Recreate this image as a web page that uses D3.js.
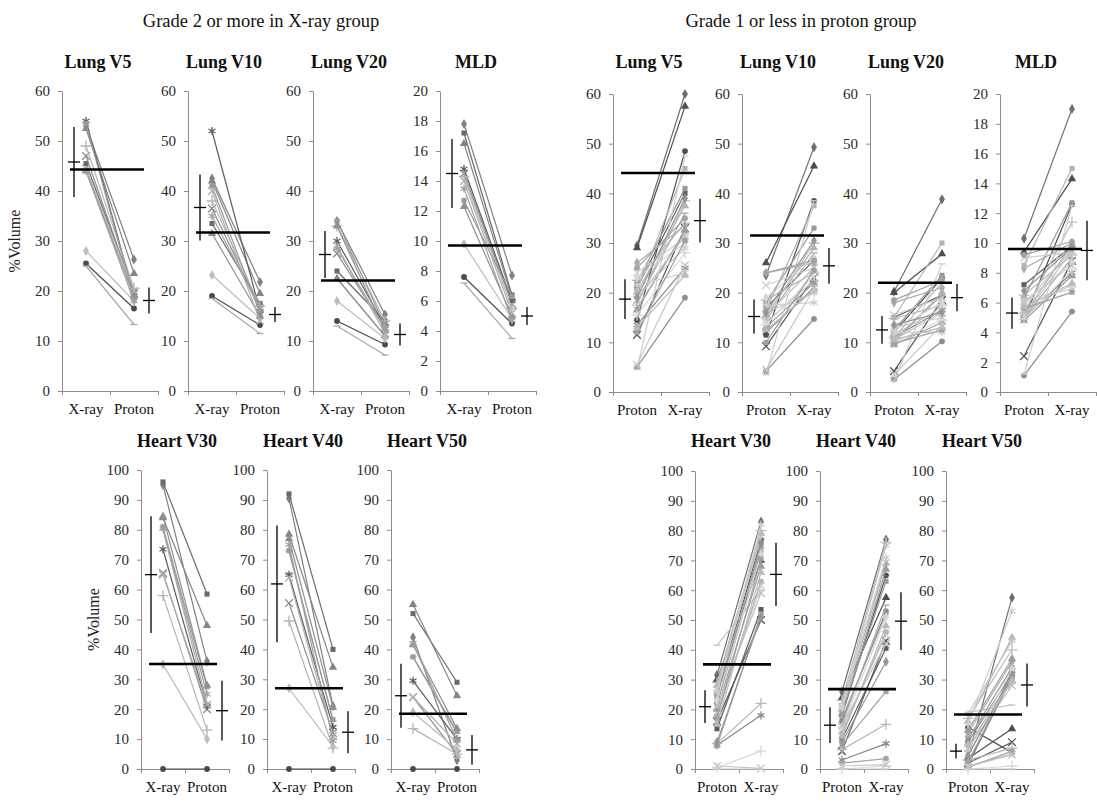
<!DOCTYPE html>
<html>
<head>
<meta charset="utf-8">
<script src="https://cdn.jsdelivr.net/npm/d3@7"></script>
<style>
body { margin: 0; background: #fff; }
svg text { font-family: "Liberation Serif", "Times New Roman", serif; }
</style>
</head>
<body>
<svg id="chart" width="1097" height="801"></svg>
<script>
// ---------------- data ----------------
var panelTitles = ["Lung V5", "Lung V10", "Lung V20", "MLD", "Heart V30", "Heart V40", "Heart V50"];
var panelMax = [60, 60, 60, 20, 100, 100, 100];
var panelStep = [10, 10, 10, 2, 10, 10, 10];
var catsLeft = ["X-ray", "Proton"];
var catsRight = ["Proton", "X-ray"];

// Grade 2 or more in X-ray group (13 patients) : X-ray value, Proton value
var lLungV5X  = [53, 45.5, 52.5, 47, 54, 25.5, 49, 25, 28, 53.5, 44, 44.5, 44];
var lLungV5P  = [26.3, 20, 23.5, 19.5, 19, 16.5, 20.5, 13.3, 18, 18.5, 19, 20, 18];
var lLungV10X = [42.5, 33.5, 42, 36.5, 52, 19, 38, 18.5, 23.2, 41, 31.5, 40, 35];
var lLungV10P = [21.8, 17.5, 19.5, 16.5, 16, 13.2, 17, 11.5, 14.5, 15.5, 15, 14, 16.5];
var lLungV20X = [34, 24, 22.5, 27.5, 30, 14, 33, 13, 18, 34, 33, 29, 28.5];
var lLungV20P = [15.3, 14, 11, 12.5, 13, 9.3, 14, 7.2, 10.5, 13, 12, 11.5, 12.5];
var lMldX     = [17.8, 17.2, 16.5, 14.5, 14.8, 7.6, 14.3, 7.2, 9.8, 12.7, 12.3, 14, 13.5];
var lMldP     = [7.7, 6.4, 6.2, 5.8, 6, 4.5, 5.5, 3.5, 4.8, 6.3, 5, 5.2, 4.7];
var lHeartV30X = [95, 96, 84, 65.5, 73.5, 0, 58, 80, 35, 81, 84.5, 65, 80.5];
var lHeartV30P = [36, 58.5, 48, 20, 21, 0, 13, 22, 10, 27.5, 28, 21.5, 25];
var lHeartV40X = [90.5, 92, 78.5, 55.5, 65, 0, 49.5, 73, 27, 73, 77, 64, 75];
var lHeartV40P = [21, 40, 34, 12, 14, 0, 7, 16, 7.5, 16.5, 20.5, 11, 9.5];
var lHeartV50X = [44, 52, 55, 24, 29.5, 0, 13.5, 37.5, 19, 37.5, 41.5, 24, 42];
var lHeartV50P = [3, 29, 24.5, 5, 10, 0, 5, 12, 6.5, 12.5, 13.5, 8.5, 9.5];

// Grade 1 or less in proton group (28 patients) : Proton value, X-ray value
var rLungV5P  = [29.5, 21, 29, 11.5, 13.5, 14.5, 22.5, 17, 26, 22, 20, 24, 19.5, 5, 17.5, 18, 23, 20.5, 16.5, 18.5, 21.5, 25, 15.5, 4.5, 19, 12, 13, 5.5];
var rLungV5X  = [60, 40, 57.5, 33, 25, 48.5, 34, 32, 33.5, 41, 37.5, 31, 29, 19, 38.5, 36, 30, 45, 32.5, 31.5, 24, 35, 28, 47.5, 39, 30.5, 23.5, 25.5];
var rLungV10P = [23.5, 17, 26, 9.2, 12, 11.5, 18.5, 14, 24, 18, 15.5, 21.5, 16, 4.2, 15, 14.5, 19, 16.5, 13, 15.5, 17.5, 24, 13.5, 3.5, 16, 10, 12.5, 4.5];
var rLungV10X = [49.3, 26.5, 45.5, 23, 21, 38.5, 24, 22.5, 26, 33, 29, 25, 20, 14.7, 30, 28, 27, 37.5, 22, 25, 18, 26.5, 23.5, 38.5, 30.5, 24.5, 20.5, 20.8];
var rLungV20P = [20.2, 15, 20, 4.2, 11, 12, 14.8, 11.5, 18, 12.5, 10, 15.5, 13, 2.5, 11, 10.5, 12.5, 15, 9.5, 10.5, 12, 18.5, 10, 2.2, 13.5, 9.8, 10.5, 3.5];
var rLungV20X = [38.8, 19.5, 27.8, 18.5, 16.5, 23, 17.5, 17, 21, 23.5, 20, 19, 15, 10.2, 22, 19.5, 18, 30, 14, 16, 12, 22.5, 14.5, 25.8, 16, 12.5, 13, 13.5];
var rMldP     = [10.3, 7.2, 9.4, 2.4, 5, 4.9, 6.5, 5.8, 8.3, 6.3, 5.2, 9, 5.5, 1.1, 5.3, 5, 6, 8.5, 4.8, 5.1, 6.2, 9.2, 4.9, 1.2, 6.8, 5.6, 5.7, 6.1];
var rMldX     = [19, 9.8, 14.3, 8.8, 8, 12.6, 9.2, 9.6, 10, 12.7, 9.9, 9.4, 7.2, 5.4, 11.4, 9, 8.7, 15, 7.8, 9.5, 6.9, 10.1, 8.2, 12.5, 9.7, 6.7, 7.3, 8.5];
var rHeartV30P = [31.5, 13.5, 30, 16, 8, 25, 8.5, 41.5, 21.5, 24, 28, 19, 27, 22, 29, 26, 23, 18, 20, 21, 25.5, 7.8, 0.5, 0, 9, 17, 15, 1];
var rHeartV30X = [83, 53.5, 70, 50, 18, 77, 22, 60, 73, 75, 79, 61.5, 78, 76, 80, 74, 72, 63, 68, 59, 82, 52, 6, 0, 51, 70.5, 66, 0.2];
var rHeartV40P = [26, 10, 24, 6, 3, 18, 6.5, 22, 17, 19, 20, 13, 21, 16, 23, 15, 14, 12, 18.5, 14.5, 20.5, 2, 0, 0, 9, 8, 11, 1];
var rHeartV40X = [77, 40.5, 57.5, 43, 8.5, 65, 15, 70, 52, 63, 69, 45, 75, 53, 76, 55, 51, 46, 67, 42, 71, 3.5, 1, 0, 36, 26, 48, 1.5];
var rHeartV50P = [4, 1.5, 3.5, 2, 1, 14, 3, 19, 12, 10, 16, 5, 18.5, 9, 17, 11, 6, 1, 13, 7, 15, 0.5, 0, 0, 4.5, 2.5, 8, 0.8];
var rHeartV50X = [57.5, 31, 13.5, 9, 33, 5.5, 7, 21.5, 36, 34, 44, 30, 43, 32, 40, 29, 33.5, 5, 37, 28, 53, 6, 1, 0, 31.5, 30.5, 29.5, 4.8];

// mean and SD crosses, and the black reference line (panel order as panelTitles)
var leftMeanX  = [45.8, 36.7, 27.3, 14.5, 65, 61.9, 24.5];
var leftSdX    = [7, 6.6, 4.7, 2.3, 19.5, 19.5, 10.7];
var leftMeanP  = [18.1, 15.3, 11.3, 5.0, 19.5, 12.3, 6.4];
var leftSdP    = [2.6, 1.5, 2.2, 0.6, 10, 7, 5];
var leftLimit  = [44.3, 31.7, 22.1, 9.7, 35.1, 27, 18.5];
var rightMeanP = [18.7, 15.2, 12.5, 5.3, 20.9, 14.7, 6];
var rightSdP   = [4, 3.4, 2.8, 1.05, 5.5, 6, 2.5];
var rightMeanX = [34.5, 25.4, 19, 9.5, 65.3, 49.6, 28.2];
var rightSdX   = [4.4, 3.6, 2.75, 2, 10.6, 9.7, 7.2];
var rightLimit = [44.1, 31.5, 22, 9.6, 35.1, 26.8, 18.3];

// ---------------- layout ----------------
var leftAxisX = [62, 188, 313, 440, 141, 267, 391];
var rightAxisX = [613, 742, 870, 1000, 695, 820, 946];
var panelRow = [0, 0, 0, 0, 1, 1, 1];
var leftRows = [[91, 391], [470, 769]];
var rightRows = [[94, 392], [471, 769]];
var rowWidth = [96, 88];

var markerTypes = ["diamond", "square", "triangle", "times", "asterisk", "circle", "plus", "dash"];
var leftShades = ["#808080", "#6a6a6a", "#858585", "#8c8c8c", "#5c5c5c", "#4a4a4a", "#b5b5b5",
                  "#a8a8a8", "#bdbdbd", "#9a9a9a", "#909090", "#b0b0b0", "#a0a0a0"];
var rightShades = ["#6f6f6f", "#5e5e5e", "#4e4e4e", "#555555", "#888888", "#505050", "#b8b8b8",
                   "#c4c4c4", "#a9a9a9", "#999999", "#b0b0b0", "#d0d0d0", "#c8c8c8", "#8e8e8e",
                   "#bdbdbd", "#aaaaaa", "#d5d5d5", "#b4b4b4", "#9c9c9c", "#c0c0c0", "#cfcfcf",
                   "#a3a3a3", "#d8d8d8", "#cccccc", "#969696", "#a0a0a0", "#b9b9b9", "#c6c6c6"];

var leftPairs = [[lLungV5X, lLungV5P], [lLungV10X, lLungV10P], [lLungV20X, lLungV20P], [lMldX, lMldP],
                 [lHeartV30X, lHeartV30P], [lHeartV40X, lHeartV40P], [lHeartV50X, lHeartV50P]];
var rightPairs = [[rLungV5P, rLungV5X], [rLungV10P, rLungV10X], [rLungV20P, rLungV20X], [rMldP, rMldX],
                  [rHeartV30P, rHeartV30X], [rHeartV40P, rHeartV40X], [rHeartV50P, rHeartV50X]];

var svg = d3.select("#chart");
var axisColor = "#8c8c8c";

svg.append("text").attr("x", 261).attr("y", 27).attr("text-anchor", "middle")
   .style("font-size", "18.5px").attr("fill", "#111").text("Grade 2 or more in X-ray group");
svg.append("text").attr("x", 801).attr("y", 27).attr("text-anchor", "middle")
   .style("font-size", "18.5px").attr("fill", "#111").text("Grade 1 or less in proton group");

function markerPath(type) {
    var sym = {
        diamond: [d3.symbolDiamond, 30], square: [d3.symbolSquare, 26], triangle: [d3.symbolTriangle, 30],
        circle: [d3.symbolCircle, 26], times: [d3.symbolTimes, 40], asterisk: [d3.symbolAsterisk, 45],
        plus: [d3.symbolPlus, 40]
    };
    if (type === "dash") return "M-3.5,0L3.5,0";
    return d3.symbol(sym[type][0], sym[type][1])();
}
var strokeMarkers = { times: 1, asterisk: 1, plus: 1, dash: 1 };

function drawPanel(p, axisX, rows, cats, pair, shades, meanA, sdA, meanB, sdB, limit, showYLabel) {
    var row = panelRow[p];
    var top = rows[row][0], bottom = rows[row][1], w = rowWidth[row];
    var g = svg.append("g").attr("transform", "translate(" + axisX + ",0)");

    var y = d3.scaleLinear().domain([0, panelMax[p]]).range([bottom, top]);
    var band = d3.scaleBand().domain(cats).range([0, w]);
    var xTicks = d3.scaleLinear().domain([0, 2]).range([0, w]);
    var cx = function (c) { return band(c) + band.bandwidth() / 2; };

    // y axis
    var ya = g.append("g").call(d3.axisLeft(y).tickValues(d3.range(0, panelMax[p] + 0.01, panelStep[p]))
        .tickSize(4).tickSizeOuter(0).tickPadding(8));
    ya.select(".domain").attr("stroke", axisColor);
    ya.selectAll(".tick line").attr("stroke", axisColor);
    ya.selectAll(".tick text").attr("fill", "#2a2a2a").style("font-size", "15px")
      .style("font-family", "'Liberation Serif', serif");

    // x axis
    var xa = g.append("g").attr("transform", "translate(0," + bottom + ")")
        .call(d3.axisBottom(xTicks).tickValues([0, 1, 2]).tickFormat("").tickSize(4).tickSizeOuter(0));
    xa.select(".domain").attr("stroke", axisColor);
    xa.selectAll(".tick line").attr("stroke", axisColor);
    g.selectAll(".xlab").data(cats).enter().append("text")
        .attr("x", function (c) { return cx(c); }).attr("y", bottom + 23)
        .attr("text-anchor", "middle").style("font-size", "15px").attr("fill", "#111")
        .text(function (c) { return c; });

    // title
    g.append("text").attr("x", 36).attr("y", row === 0 ? 68 : 447).attr("text-anchor", "middle")
        .style("font-size", "18px").style("font-weight", "bold").attr("fill", "#111").text(panelTitles[p]);

    if (showYLabel) {
        g.append("text").attr("transform", "translate(-42," + ((top + bottom) / 2) + ") rotate(-90)")
            .attr("text-anchor", "middle").style("font-size", "16px").attr("fill", "#222").text("%Volume");
    }

    // patient lines and markers
    var a = pair[0], b = pair[1];
    var x0 = cx(cats[0]), x1 = cx(cats[1]);
    a.forEach(function (va, i) {
        var col = shades[i];
        var type = markerTypes[i % markerTypes.length];
        g.append("line").attr("x1", x0).attr("y1", y(va)).attr("x2", x1).attr("y2", y(b[i]))
            .attr("stroke", col).attr("stroke-width", 1.2);
        [[x0, va], [x1, b[i]]].forEach(function (pt) {
            var m = g.append("path").attr("d", markerPath(type))
                .attr("transform", "translate(" + pt[0] + "," + y(pt[1]) + ")");
            if (strokeMarkers[type]) m.attr("fill", "none").attr("stroke", col).attr("stroke-width", 1.3);
            else m.attr("fill", col).attr("stroke", "none");
        });
    });

    // reference line
    g.append("line").attr("x1", 8).attr("x2", x1 + 10).attr("y1", y(limit[p])).attr("y2", y(limit[p]))
        .attr("stroke", "#000").attr("stroke-width", 2.6);

    // mean +/- SD crosses
    [[x0 - 12, meanA[p], sdA[p]], [x1 + 15, meanB[p], sdB[p]]].forEach(function (c) {
        g.append("line").attr("x1", c[0]).attr("x2", c[0]).attr("y1", y(c[1] - c[2])).attr("y2", y(c[1] + c[2]))
            .attr("stroke", "#000").attr("stroke-width", 1.3);
        g.append("line").attr("x1", c[0] - 6).attr("x2", c[0] + 6).attr("y1", y(c[1])).attr("y2", y(c[1]))
            .attr("stroke", "#000").attr("stroke-width", 1.3);
    });
}

for (var p = 0; p < panelTitles.length; p++) {
    drawPanel(p, leftAxisX[p], leftRows, catsLeft, leftPairs[p], leftShades,
              leftMeanX, leftSdX, leftMeanP, leftSdP, leftLimit, p === 0 || p === 4);
    drawPanel(p, rightAxisX[p], rightRows, catsRight, rightPairs[p], rightShades,
              rightMeanP, rightSdP, rightMeanX, rightSdX, rightLimit, false);
}
</script>
</body>
</html>
